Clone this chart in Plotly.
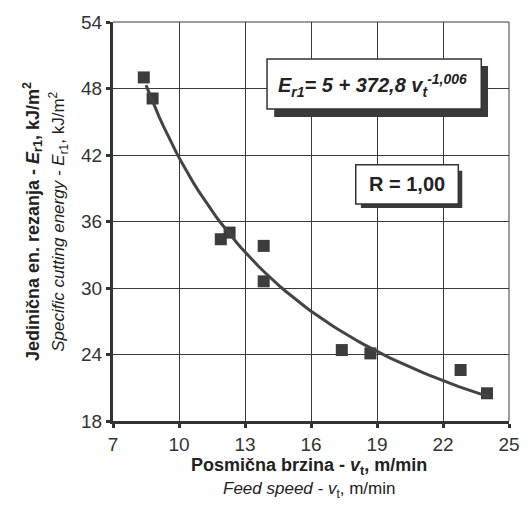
import plotly.graph_objects as go

# Measured points (feed speed m/min, specific cutting energy kJ/m2)
feed_speed = [8.4, 8.8, 11.9, 12.3, 13.85, 13.85, 17.4, 18.7, 22.8, 24.0]
cut_energy = [49.0, 47.1, 34.4, 35.0, 33.8, 30.6, 24.4, 24.1, 22.6, 20.5]

# Fitted curve shown on the chart: E = 5 + 372.8 * v^-1.006
fit_a = 5.0
fit_b = 372.8
fit_c = -1.006
fit_v_start = 8.5
fit_v_end = 24.1
n_fit = 80
fit_v = [fit_v_start + (fit_v_end - fit_v_start) * i / (n_fit - 1) for i in range(n_fit)]
fit_e = [fit_a + fit_b * v ** fit_c for v in fit_v]

x_ticks = [7, 10, 13, 16, 19, 22, 25]
y_ticks = [18, 24, 30, 36, 42, 48, 54]

FONT = "Liberation Sans, Arial, Helvetica, sans-serif"
INK = "#333333"
TXT = "#222222"

fig = go.Figure()
fig.add_trace(go.Scatter(
    x=feed_speed, y=cut_energy, mode="markers",
    marker=dict(symbol="square", size=12, color="#3c3c3c"),
    showlegend=False,
))
fig.add_trace(go.Scatter(
    x=fit_v, y=fit_e, mode="lines",
    line=dict(color="#444444", width=3),
    showlegend=False,
))

axis_common = dict(
    showgrid=True, gridcolor="#3a3a3a", gridwidth=1,
    zeroline=False, ticks="outside", ticklen=4, tickwidth=3, tickcolor=INK,
    tickfont=dict(family=FONT, size=19, color=INK),
    showline=True, linecolor=INK, linewidth=3, mirror=False,
)
fig.update_xaxes(range=[7, 25], tickvals=x_ticks, **axis_common)
fig.update_yaxes(range=[18, 54], tickvals=y_ticks, **axis_common)

shapes = [
    # top and right frame
    dict(type="line", xref="paper", yref="paper", x0=0, x1=1, y0=1, y1=1, line=dict(color="#3a3a3a", width=1)),
    dict(type="line", xref="paper", yref="paper", x0=1, x1=1, y0=0, y1=1, line=dict(color="#3a3a3a", width=1)),
    # equation box shadow and box
    dict(type="rect", xref="paper", yref="paper", x0=0.407, x1=0.947, y0=0.762, y1=0.890,
         fillcolor="#3a3a3a", line=dict(width=0)),
    dict(type="rect", xref="paper", yref="paper", x0=0.389, x1=0.930, y0=0.782, y1=0.907,
         fillcolor="white", line=dict(color=INK, width=1.5)),
    # R box shadow and box
    dict(type="rect", xref="paper", yref="paper", x0=0.626, x1=0.882, y0=0.534, y1=0.627,
         fillcolor="#3a3a3a", line=dict(width=0)),
    dict(type="rect", xref="paper", yref="paper", x0=0.613, x1=0.872, y0=0.544, y1=0.642,
         fillcolor="white", line=dict(color=INK, width=1.5)),
]

annotations = [
    dict(xref="paper", yref="paper", x=0.655, y=0.842, xanchor="center", yanchor="middle", showarrow=False,
         text="<b><i>E<sub>r1</sub>= 5 + 372,8 v<sub>t</sub><sup>-1,006</sup></i></b>",
         font=dict(family=FONT, size=20, color=TXT)),
    dict(xref="paper", yref="paper", x=0.742, y=0.593, xanchor="center", yanchor="middle", showarrow=False,
         text="<b>R = 1,00</b>",
         font=dict(family=FONT, size=20, color=TXT)),
    dict(xref="paper", yref="paper", x=-0.203, y=0.50, xanchor="center", yanchor="middle", showarrow=False,
         textangle=-90,
         text="<b>Jedinična en. rezanja - <i>E</i><sub>r1</sub>, kJ/m<sup>2</sup></b>",
         font=dict(family=FONT, size=18, color=TXT)),
    dict(xref="paper", yref="paper", x=-0.138, y=0.50, xanchor="center", yanchor="middle", showarrow=False,
         textangle=-90,
         text="<i>Specific cutting energy - E</i><sub>r1</sub>, kJ/m<sup>2</sup>",
         font=dict(family=FONT, size=17, color=TXT)),
    dict(xref="paper", yref="paper", x=0.495, y=-0.113, xanchor="center", yanchor="middle", showarrow=False,
         text="<b>Posmična brzina - <i>v</i><sub>t</sub>, m/min</b>",
         font=dict(family=FONT, size=18, color=TXT)),
    dict(xref="paper", yref="paper", x=0.495, y=-0.174, xanchor="center", yanchor="middle", showarrow=False,
         text="<i>Feed speed - v</i><sub>t</sub>, m/min",
         font=dict(family=FONT, size=17, color=TXT)),
]

fig.update_layout(
    width=532, height=508,
    margin=dict(l=113, r=21, t=20, b=87),
    paper_bgcolor="white", plot_bgcolor="white",
    shapes=shapes, annotations=annotations,
    showlegend=False,
)

fig.write_html("out.html", config={"displayModeBar": False})

# remove the browser's default page margin so the figure sits at the window's corner
with open("out.html", "r", encoding="utf-8") as f:
    html = f.read()
html = html.replace("<body>", '<body style="margin:0;padding:0;overflow:hidden">', 1)
with open("out.html", "w", encoding="utf-8") as f:
    f.write(html)
